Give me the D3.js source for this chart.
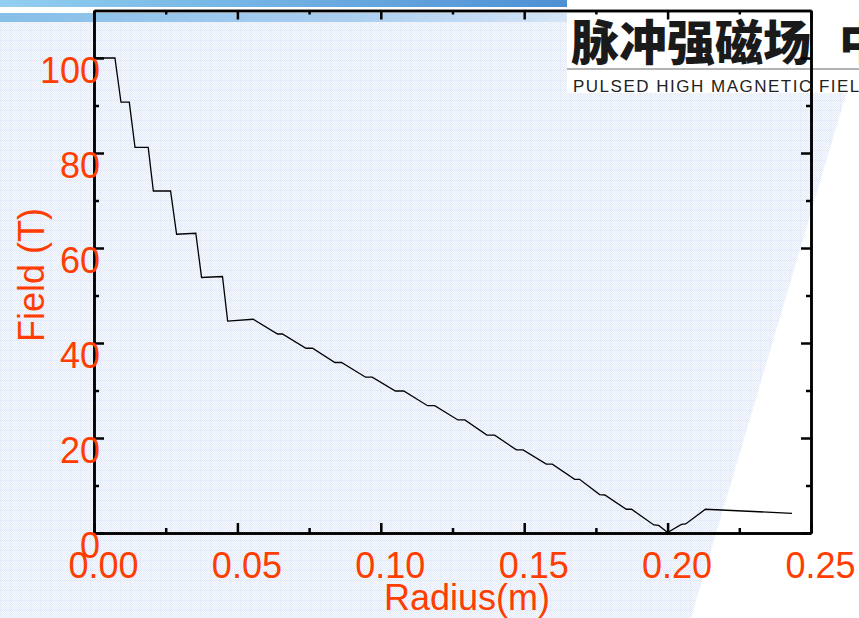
<!DOCTYPE html>
<html>
<head>
<meta charset="utf-8">
<script src="https://cdn.jsdelivr.net/npm/d3@7"></script>
<style>
  body { margin: 0; background: #fff; }
  svg { display: block; }
</style>
</head>
<body>
<svg width="859" height="618"></svg>
<script>
// field profile: radius in m, field in T
var radius = [0, 0.0073, 0.0094, 0.0123, 0.0143, 0.0189, 0.0207, 0.0267, 0.0288, 0.0355,
  0.0375, 0.0448, 0.0466, 0.0555, 0.0640, 0.0657, 0.0739, 0.0762, 0.0840, 0.0863,
  0.0947, 0.0970, 0.1051, 0.1080, 0.1163, 0.1188, 0.1269, 0.1293, 0.1370, 0.1397,
  0.1473, 0.1496, 0.1577, 0.1598, 0.1676, 0.1693, 0.1763, 0.1781, 0.1856, 0.1874,
  0.1952, 0.1969, 0.2000, 0.2048, 0.2063, 0.2132, 0.2434];
var field = [100, 100, 90.7, 90.7, 81.2, 81.2, 72.0, 72.0, 62.9, 63.1,
  53.8, 54.0, 44.6, 45.0, 41.9, 41.9, 38.9, 38.9, 35.9, 35.9,
  32.8, 32.8, 29.9, 29.9, 26.8, 26.8, 23.8, 23.8, 20.6, 20.6,
  17.5, 17.5, 14.5, 14.5, 11.3, 11.3, 8.1, 8.0, 5.0, 5.0,
  1.7, 1.6, 0.1, 1.8, 1.9, 5.0, 4.15];

var xTicks = [0, 0.05, 0.10, 0.15, 0.20, 0.25];
var xMinor = [0.025, 0.075, 0.125, 0.175, 0.225];
var yTicks = [0, 20, 40, 60, 80, 100];
var yMinor = [10, 30, 50, 70, 90];

var orange = "#ff3d00";
var font = "'Liberation Sans', Arial, sans-serif";

var svg = d3.select("svg");
var defs = svg.append("defs");

// dotted slide background
var pat = defs.append("pattern")
  .attr("id", "dots")
  .attr("width", 10).attr("height", 10)
  .attr("patternUnits", "userSpaceOnUse");
pat.append("rect").attr("width", 10).attr("height", 10).attr("fill", "#f9fbfe");
for (var i = 0; i < 10; i++) {
  for (var j = 0; j < 10; j++) {
    if ((i + j) % 2 == 0) {
      pat.append("rect").attr("x", i).attr("y", j).attr("width", 1).attr("height", 1)
        .attr("fill", "#e2eaf9");
    }
  }
}
pat.append("rect").attr("x", 0).attr("y", 0).attr("width", 10).attr("height", 1).attr("fill", "#d6e1f6").attr("opacity", 0.35);
pat.append("rect").attr("x", 0).attr("y", 0).attr("width", 1).attr("height", 10).attr("fill", "#d6e1f6").attr("opacity", 0.35);

var g1 = defs.append("linearGradient").attr("id", "bar1");
g1.append("stop").attr("offset", "0%").attr("stop-color", "#93cff0");
g1.append("stop").attr("offset", "100%").attr("stop-color", "#4d90d4");
var g2 = defs.append("linearGradient").attr("id", "bar2");
g2.append("stop").attr("offset", "0%").attr("stop-color", "#86bfe8");
g2.append("stop").attr("offset", "60%").attr("stop-color", "#a9cdef");
g2.append("stop").attr("offset", "100%").attr("stop-color", "#d4e5f6");

svg.append("polygon")
  .attr("points", "0,13 870,13 691,618 0,618")
  .attr("fill", "url(#dots)");
svg.append("rect").attr("x", 0).attr("y", 0).attr("width", 567).attr("height", 7).attr("fill", "url(#bar1)");
svg.append("rect").attr("x", 0).attr("y", 13).attr("width", 567).attr("height", 9).attr("fill", "url(#bar2)");

// logo block
svg.append("rect").attr("x", 567).attr("y", 0).attr("width", 292).attr("height", 93).attr("fill", "#fff");
var logo = svg.append("text")
  .attr("x", 571).attr("y", 60)
  .attr("font-family", "'Noto Sans CJK SC', sans-serif")
  .attr("font-weight", 900)
  .attr("font-size", 48)
  .attr("fill", "#1a1a1a");
logo.append("tspan").text("脉冲强磁场");
logo.append("tspan").attr("dx", 28).text("中");
svg.append("line")
  .attr("x1", 567).attr("x2", 859).attr("y1", 69).attr("y2", 69)
  .attr("stroke", "#9a9a9a").attr("stroke-width", 1.5);
svg.append("text")
  .attr("x", 573).attr("y", 92)
  .attr("font-family", font)
  .attr("font-size", 17)
  .attr("letter-spacing", 1.5)
  .attr("fill", "#222")
  .text("PULSED HIGH MAGNETIC FIELD");

// chart
var x = d3.scaleLinear().domain([0, 0.25]).range([94, 811]);
var y = d3.scaleLinear().domain([0, 110]).range([533, 10.5]);

function styleAxis(sel) {
  sel.select(".domain").attr("stroke", "#000").attr("stroke-width", 2.5);
  sel.selectAll(".tick line").attr("stroke", "#000").attr("stroke-width", 2.5);
}

// minor ticks
svg.append("g").attr("transform", "translate(0,533)")
  .call(d3.axisBottom(x).tickValues(xMinor).tickSize(-5).tickSizeOuter(0).tickFormat(""))
  .call(styleAxis);
svg.append("g").attr("transform", "translate(0,10.5)")
  .call(d3.axisTop(x).tickValues(xMinor).tickSize(-4).tickSizeOuter(0).tickFormat(""))
  .call(styleAxis);
svg.append("g").attr("transform", "translate(94,0)")
  .call(d3.axisLeft(y).tickValues(yMinor).tickSize(-5).tickSizeOuter(0).tickFormat(""))
  .call(styleAxis);
svg.append("g").attr("transform", "translate(811,0)")
  .call(d3.axisRight(y).tickValues(yMinor).tickSize(-5).tickSizeOuter(0).tickFormat(""))
  .call(styleAxis);

// major ticks
var xb = svg.append("g").attr("transform", "translate(0,533)")
  .call(d3.axisBottom(x).tickValues(xTicks).tickSize(-10).tickSizeOuter(0).tickFormat(d3.format(".2f")))
  .call(styleAxis);
xb.selectAll(".tick text")
  .attr("x", 9).attr("y", 45).attr("dy", 0)
  .attr("font-family", font).attr("font-size", 36).attr("fill", orange);

svg.append("g").attr("transform", "translate(0,10.5)")
  .call(d3.axisTop(x).tickValues(xTicks).tickSize(-9).tickSizeOuter(0).tickFormat(""))
  .call(styleAxis);

var yl = svg.append("g").attr("transform", "translate(94,0)")
  .call(d3.axisLeft(y).tickValues(yTicks).tickSize(-10).tickSizeOuter(0))
  .call(styleAxis);
yl.selectAll(".tick text")
  .attr("x", 6).attr("y", 24).attr("dy", 0)
  .attr("text-anchor", "end")
  .attr("font-family", font).attr("font-size", 36).attr("fill", orange);

svg.append("g").attr("transform", "translate(811,0)")
  .call(d3.axisRight(y).tickValues(yTicks).tickSize(-10).tickSizeOuter(0).tickFormat(""))
  .call(styleAxis);

// data line
var pts = radius.map(function(r, i) { return [r, field[i]]; });
svg.append("path")
  .datum(pts)
  .attr("fill", "none")
  .attr("stroke", "#000")
  .attr("stroke-width", 1.3)
  .attr("d", d3.line()
    .x(function(d) { return x(d[0]); })
    .y(function(d) { return y(d[1]); }));

// axis titles
svg.append("text")
  .attr("x", 467).attr("y", 610)
  .attr("text-anchor", "middle")
  .attr("font-family", font).attr("font-size", 36).attr("fill", orange)
  .text("Radius(m)");
svg.append("text")
  .attr("transform", "translate(44,275) rotate(-90)")
  .attr("text-anchor", "middle")
  .attr("font-family", font).attr("font-size", 36).attr("fill", orange)
  .text("Field (T)");
</script>
</body>
</html>
